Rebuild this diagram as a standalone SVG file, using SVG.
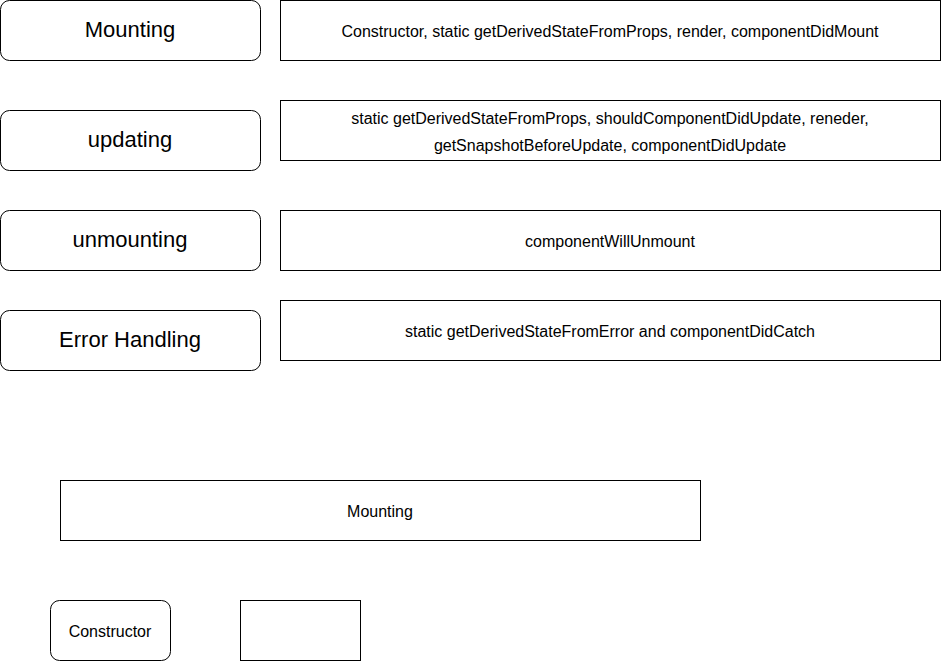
<svg xmlns="http://www.w3.org/2000/svg" width="941" height="661" viewBox="0 0 941 661">
<style>
.n{fill:#fff;stroke:#000;stroke-width:1}
.t{font-family:"Liberation Sans",Arial,sans-serif;fill:#000;text-anchor:middle;dominant-baseline:central}
.big{font-size:22px}
.sm{font-size:16px}
</style>
<rect width="941" height="661" fill="#fff"/>
<g id="mounting"><rect class="n" x="0.5" y="0.5" width="260" height="60" rx="9"/><text class="t big" x="130" y="29">Mounting</text></g>
<g id="mounting-methods"><rect class="n" x="280.5" y="0.5" width="660" height="60"/><text class="t sm" x="610" y="31">Constructor, static getDerivedStateFromProps, render, componentDidMount</text></g>
<g id="updating"><rect class="n" x="0.5" y="110.5" width="260" height="60" rx="9"/><text class="t big" x="130" y="139">updating</text></g>
<g id="updating-methods"><rect class="n" x="280.5" y="100.5" width="660" height="60"/><text class="t sm" x="610" y="118">static getDerivedStateFromProps, shouldComponentDidUpdate, reneder,</text><text class="t sm" x="610" y="145">getSnapshotBeforeUpdate, componentDidUpdate</text></g>
<g id="unmounting"><rect class="n" x="0.5" y="210.5" width="260" height="60" rx="9"/><text class="t big" x="130" y="239">unmounting</text></g>
<g id="unmounting-methods"><rect class="n" x="280.5" y="210.5" width="660" height="60"/><text class="t sm" x="610" y="241">componentWillUnmount</text></g>
<g id="error-handling"><rect class="n" x="0.5" y="310.5" width="260" height="60" rx="9"/><text class="t big" x="130" y="339">Error Handling</text></g>
<g id="error-methods"><rect class="n" x="280.5" y="300.5" width="660" height="60"/><text class="t sm" x="610" y="331">static getDerivedStateFromError and componentDidCatch</text></g>
<g id="mounting-bottom"><rect class="n" x="60.5" y="480.5" width="640" height="60"/><text class="t sm" x="380" y="511">Mounting</text></g>
<g id="constructor"><rect class="n" x="50.5" y="600.5" width="120" height="60" rx="9"/><text class="t sm" x="110" y="631">Constructor</text></g>
<g id="empty"><rect class="n" x="240.5" y="600.5" width="120" height="60"/></g>
<g id="connectors"/>
</svg>
